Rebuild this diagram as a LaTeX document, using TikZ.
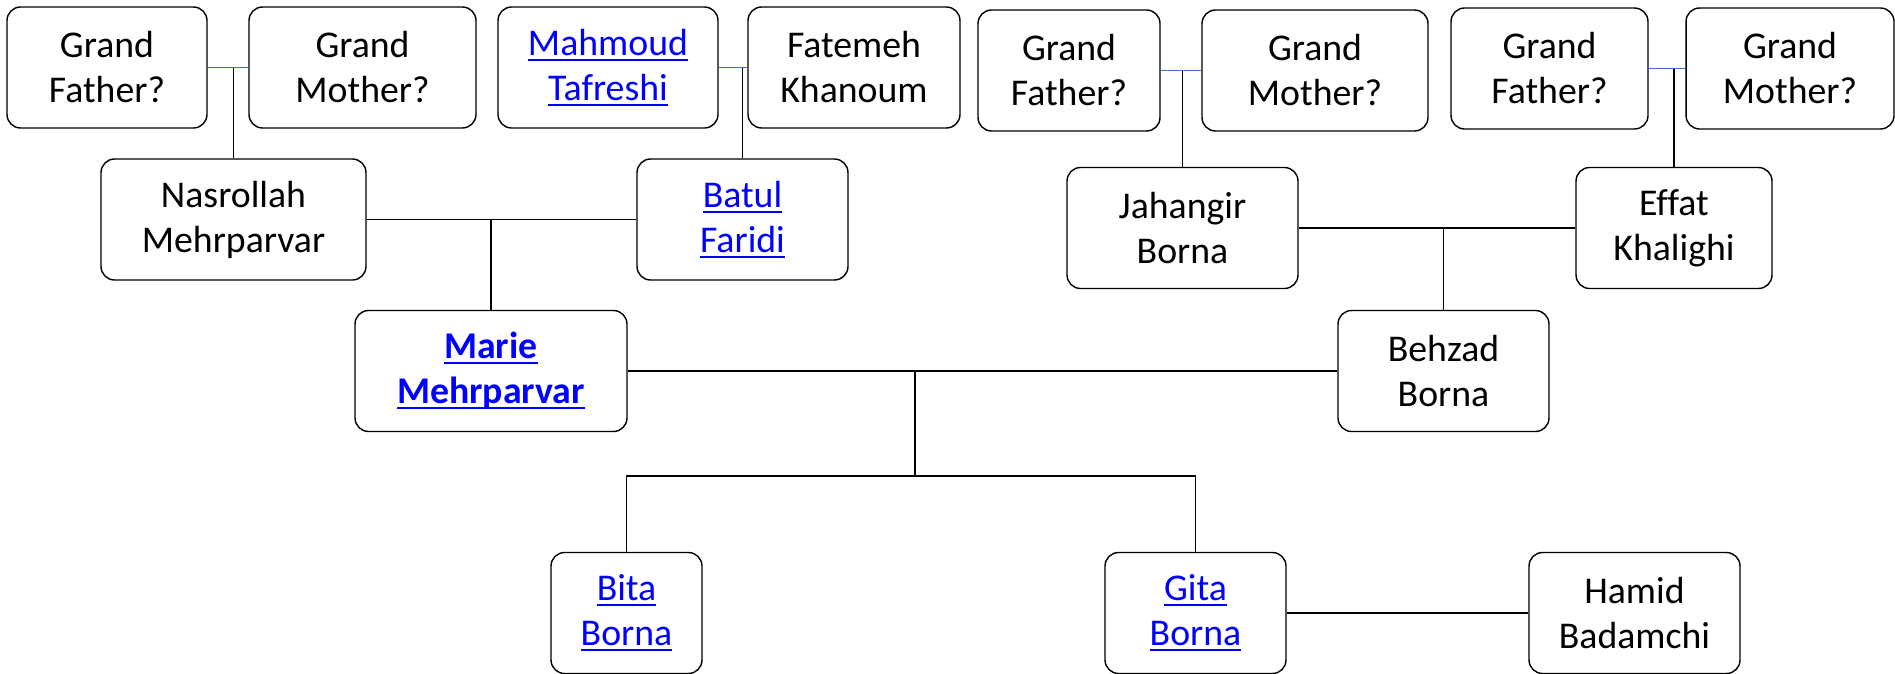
\documentclass[tikz,border=0pt]{standalone}
\usepackage{fontspec}
\setmainfont{Carlito}[Ligatures=NoCommon]
\usepackage{tikz}

\definecolor{linkblue}{RGB}{0,0,255}
\definecolor{coupleblue}{HTML}{4472C4}
\newcommand{\weblink}[1]{\textcolor{linkblue}{\setbox0\hbox{#1}\rlap{\rule[-2.9pt]{\wd0}{1.2pt}}\box0}}

\begin{document}
\begin{tikzpicture}[
    x=0.02cm, y=-0.02cm, % one unit is one pixel, y grows downwards
    line width=0.8pt, % Lines between people
    every node/.style={
        draw, % Draw a border around each person
        rounded corners=0.27cm, % Rounded corners for boxes
        minimum height=2.42cm, % Same height for all boxes
        inner sep=0pt,
        align=center, % Center the two name lines
        font=\fontsize{21.5}{25.6}\selectfont % Large sans font
    },
    couple/.style={draw=coupleblue, line width=1pt} % Short blue line between grandparents
]
\useasboundingbox (0,0) rectangle (1895,673);

% grandparents
\node[minimum width=4.00cm] (gfa) at (107,67.5) {Grand\\Father?};
\node[minimum width=4.54cm] (gma) at (362.5,67.5) {Grand\\Mother?};
\node[minimum width=4.40cm] (mahmoud) at (608,67.5) {\weblink{Mahmoud}\\\weblink{Tafreshi}};
\node[minimum width=4.24cm] (fatemeh) at (854,67.5) {Fatemeh\\Khanoum};
\node[minimum width=3.64cm] (gfb) at (1069,70.5) {Grand\\Father?};
\node[minimum width=4.52cm] (gmb) at (1315,70.5) {Grand\\Mother?};
\node[minimum width=3.94cm] (gfc) at (1549.5,68.5) {Grand\\Father?};
\node[minimum width=4.16cm] (gmc) at (1790,68.5) {Grand\\Mother?};

% parents
\node[minimum width=5.30cm] (nasrollah) at (233.5,219.5) {Nasrollah\\Mehrparvar};
\node[minimum width=4.22cm] (batul) at (742.5,219.5) {\weblink{Batul}\\\weblink{Faridi}};
\node[minimum width=4.62cm] (jahangir) at (1182.5,228) {Jahangir\\Borna};
\node[minimum width=3.92cm] (effat) at (1674,228) {Effat\\Khalighi};

% couple
\node[minimum width=5.44cm] (marie) at (491,371) {\textbf{\weblink{Marie}}\\\textbf{\weblink{Mehrparvar}}};
\node[minimum width=4.22cm] (behzad) at (1443.5,371) {Behzad\\Borna};

% children
\node[minimum width=3.02cm] (bita) at (626.5,613) {\weblink{Bita}\\\weblink{Borna}};
\node[minimum width=3.62cm] (gita) at (1195.5,613) {\weblink{Gita}\\\weblink{Borna}};
\node[minimum width=4.22cm] (hamid) at (1634.5,613) {Hamid\\Badamchi};

\coordinate (kids) at (915,476);

\draw[couple] (gfa) -- (gma);
\draw[couple] (mahmoud) -- (fatemeh);
\draw[couple] (gfb) -- (gmb);
\draw[couple] (gfc) -- (gmc);

\draw (nasrollah.north) -- (nasrollah.north |- gfa.east);
\draw (batul.north) -- (batul.north |- mahmoud.east);
\draw (jahangir.north) -- (jahangir.north |- gfb.east);
\draw (effat.north) -- (effat.north |- gfc.east);

\draw (nasrollah) -- (batul);
\draw (marie.north) -- (marie.north |- nasrollah.east);
\draw (jahangir) -- (effat);
\draw (behzad.north) -- (behzad.north |- jahangir.east);

\draw (marie) -- (behzad);
\draw (kids) -- (kids |- marie.east);
\draw (bita.north) |- (kids) -| (gita.north);
\draw (gita) -- (hamid);
\end{tikzpicture}
\end{document}
